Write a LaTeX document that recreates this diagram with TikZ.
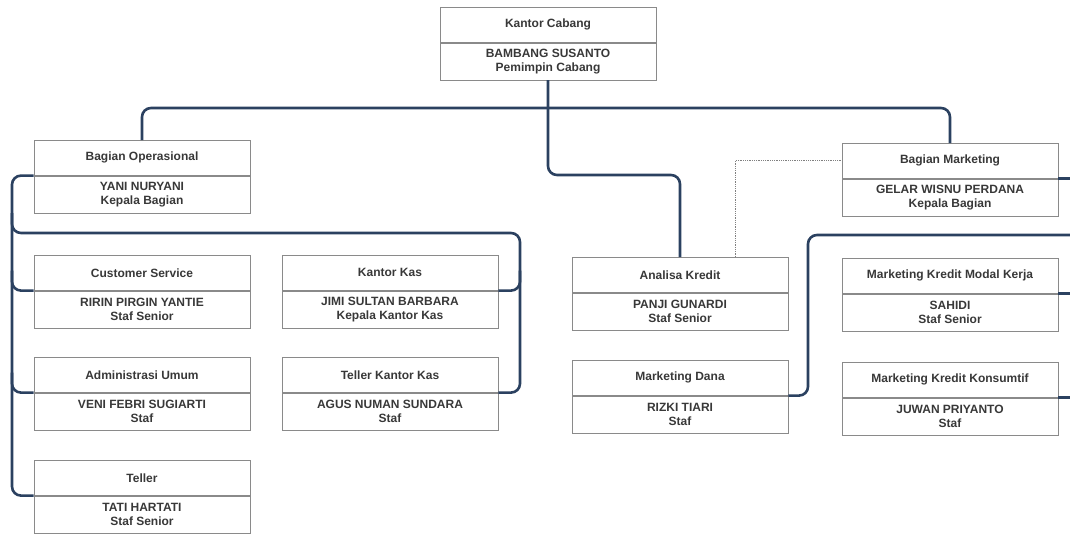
\documentclass[tikz,border=0pt]{standalone}
\usepackage{fontspec}
\setmainfont{Liberation Sans}
\usetikzlibrary{positioning}
\definecolor{linkcolor}{HTML}{2B4160}
\definecolor{boxcolor}{HTML}{8A8A8A}
\definecolor{textcolor}{HTML}{383838}

\tikzset{
    titlebox/.style = {draw = boxcolor, line width = 0.6pt, rectangle, minimum width = 216pt, minimum height = 35pt, anchor = north, text = textcolor, font = \fontsize{12}{14}\selectfont\bfseries},
    namebox/.style = {draw = boxcolor, line width = 0.6pt, rectangle, minimum width = 216pt, minimum height = 37pt, align = center, text = textcolor, font = \fontsize{12}{14}\selectfont\bfseries},
    link/.style = {line width = 2.6pt, color = linkcolor, rounded corners = 9pt},
    dotlink/.style = {densely dotted, line width = 0.8pt, color = gray}
}

\begin{document}
\begin{tikzpicture}
        \useasboundingbox (0pt, 0pt) rectangle (1070pt, -535pt);

        % Nodes
        \node [titlebox] (cabT) at (548pt, -7pt) {Kantor Cabang};
        \node [namebox, below = 0pt of cabT] (cabN) {BAMBANG SUSANTO\\Pemimpin Cabang};

        \node [titlebox] (opsT) at (142pt, -140pt) {Bagian Operasional};
        \node [namebox, below = 0pt of opsT] (opsN) {YANI NURYANI\\Kepala Bagian};
        \node [titlebox] (mktT) at (950pt, -143pt) {Bagian Marketing};
        \node [namebox, below = 0pt of mktT] (mktN) {GELAR WISNU PERDANA\\Kepala Bagian};

        \node [titlebox] (csT) at (142pt, -255pt) {Customer Service};
        \node [namebox, below = 0pt of csT] (csN) {RIRIN PIRGIN YANTIE\\Staf Senior};
        \node [titlebox] (kasT) at (390pt, -255pt) {Kantor Kas};
        \node [namebox, below = 0pt of kasT] (kasN) {JIMI SULTAN BARBARA\\Kepala Kantor Kas};
        \node [titlebox] (admT) at (142pt, -357pt) {Administrasi Umum};
        \node [namebox, below = 0pt of admT] (admN) {VENI FEBRI SUGIARTI\\Staf};
        \node [titlebox] (tkkT) at (390pt, -357pt) {Teller Kantor Kas};
        \node [namebox, below = 0pt of tkkT] (tkkN) {AGUS NUMAN SUNDARA\\Staf};
        \node [titlebox] (telT) at (142pt, -460pt) {Teller};
        \node [namebox, below = 0pt of telT] (telN) {TATI HARTATI\\Staf Senior};

        \node [titlebox] (anaT) at (680pt, -257pt) {Analisa Kredit};
        \node [namebox, below = 0pt of anaT] (anaN) {PANJI GUNARDI\\Staf Senior};
        \node [titlebox] (danaT) at (680pt, -360pt) {Marketing Dana};
        \node [namebox, below = 0pt of danaT] (danaN) {RIZKI TIARI\\Staf};

        \node [titlebox] (mkkT) at (950pt, -258pt) {Marketing Kredit Modal Kerja};
        \node [namebox, below = 0pt of mkkT] (mkkN) {SAHIDI\\Staf Senior};
        \node [titlebox] (konsT) at (950pt, -362pt) {Marketing Kredit Konsumtif};
        \node [namebox, below = 0pt of konsT] (konsN) {JUWAN PRIYANTO\\Staf};

        % Links from the top
        \coordinate (bus) at (548pt, -108pt);
        \coordinate (anaBend) at (548pt, -175pt);
        \draw [link] (cabN.south) -- (anaBend) -| (anaT.north);
        \draw [link] (bus) -| (opsT.north);
        \draw [link] (bus) -| (mktT.north);
        \draw [dotlink] ([xshift = 55pt] anaT.north) |- (mktT.west);

        % Links on the left
        \coordinate (trunkL) at (12pt, -300pt);
        \coordinate (kasBus) at (520pt, -233pt);
        \draw [link] (opsT.south west) -| (trunkL) |- (telT.south west);
        \draw [link] ([yshift = 20pt] trunkL |- csT.south west) |- (csT.south west);
        \draw [link] ([yshift = 20pt] trunkL |- admT.south west) |- (admT.south west);
        \draw [link] ([yshift = 20pt] trunkL |- kasBus) |- (kasBus) |- (tkkT.south east);
        \draw [link] ([yshift = 20pt] kasBus |- kasT.south east) |- (kasT.south east);

        % Links on the right
        \coordinate (edgeR) at (1070pt, 0pt);
        \coordinate (mktBus) at (808pt, -235pt);
        \draw [link] (mktT.south east) -- (mktT.south east -| edgeR);
        \draw [link] (mkkT.south east) -- (mkkT.south east -| edgeR);
        \draw [link] (konsT.south east) -- (konsT.south east -| edgeR);
        \draw [link] (danaT.south east) -| (mktBus) -- (mktBus -| edgeR);

\end{tikzpicture}
\end{document}
